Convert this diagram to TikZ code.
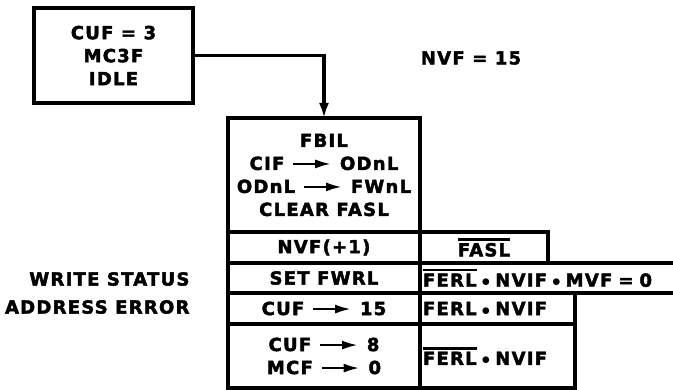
\documentclass[tikz,border=0pt]{standalone}
\usepackage{fontspec}
\setmainfont[LetterSpace=7,
  BoldFeatures={FakeBold=2.4}]{DejaVu Sans}
\usetikzlibrary{arrows.meta,positioning}

% small arrow used inside the texts
\newcommand{\giv}{\tikz[baseline=0pt]\draw[line width=2.6pt,
  -{Latex[length=16pt,width=9pt]}] (0pt,6pt) -- (38pt,6pt);}
% heavy bar over a signal name
\newcommand{\ovl}[1]{\leavevmode\vbox{\hrule height 2.4pt\kern 2.2pt\hbox{#1}}}
\newcommand{\dotop}{\;$\bullet$\;}

\begin{document}
\begin{tikzpicture}[
  x=1pt, y=-1pt,
  font=\fontsize{18}{23}\selectfont\bfseries,
  cell/.style={
    draw=black,
    line width=3.4pt,
    inner sep=0pt,
    outer sep=0pt,
    align=center,
    text=black
  },
  maincell/.style={cell,minimum width=192pt},
  sidecell/.style={cell,anchor=west,align=left,text width=#1-6pt,
    minimum width=#1,inner xsep=3pt},
  flow/.style={
    draw=black,
    line width=3.4pt,
    -{Latex[length=15pt,width=10pt]}
  }
]
\useasboundingbox (0,0) rectangle (673,390);

% Idle state
\node[cell,minimum width=159pt,minimum height=95pt] (idle) at (113.5,55.5)
  {CUF = 3\\MC3F\\IDLE};
\node (nvfval) at (471,58) {NVF = 15};

% Main column
\node[maincell,minimum height=114pt] (fbil) at (324,175)
  {FBIL\\CIF \giv{} ODnL\\ODnL \giv{} FWnL\\CLEAR FASL};
\node[maincell,minimum height=31pt,below=0pt of fbil] (nvfinc)
  {NVF(+1)};
\node[maincell,minimum height=30pt,below=0pt of nvfinc] (setfwrl)
  {SET FWRL};
\node[maincell,minimum height=31pt,below=0pt of setfwrl] (cufset)
  {CUF \giv{} 15};
\node[maincell,minimum height=64pt,below=0pt of cufset] (cufclr)
  {CUF \giv{} 8\\MCF \giv{} 0};

% Conditions (the long one runs off the sheet)
\node[cell,minimum width=128pt,minimum height=31pt,right=0pt of nvfinc]
  (fasl) {\ovl{FASL}};
\node[sidecell=258pt,minimum height=30pt,right=0pt of setfwrl]
  (ferlmvf) {\ovl{FERL}\dotop NVIF\dotop MVF = 0};
\node[sidecell=155pt,minimum height=31pt,right=0pt of cufset]
  (ferlnvif) {FERL\dotop NVIF};
\node[sidecell=155pt,minimum height=64pt,right=0pt of cufclr]
  (nferlnvif) {\ovl{FERL}\dotop NVIF};

% Error label
\node[align=right,font=\fontsize{18}{28}\selectfont\bfseries,
  left=35pt of setfwrl.south west] (wrerr)
  {WRITE STATUS\\ADDRESS ERROR};

% Connector
\draw[flow] (idle.east) -| (fbil.north);

\end{tikzpicture}
\end{document}
